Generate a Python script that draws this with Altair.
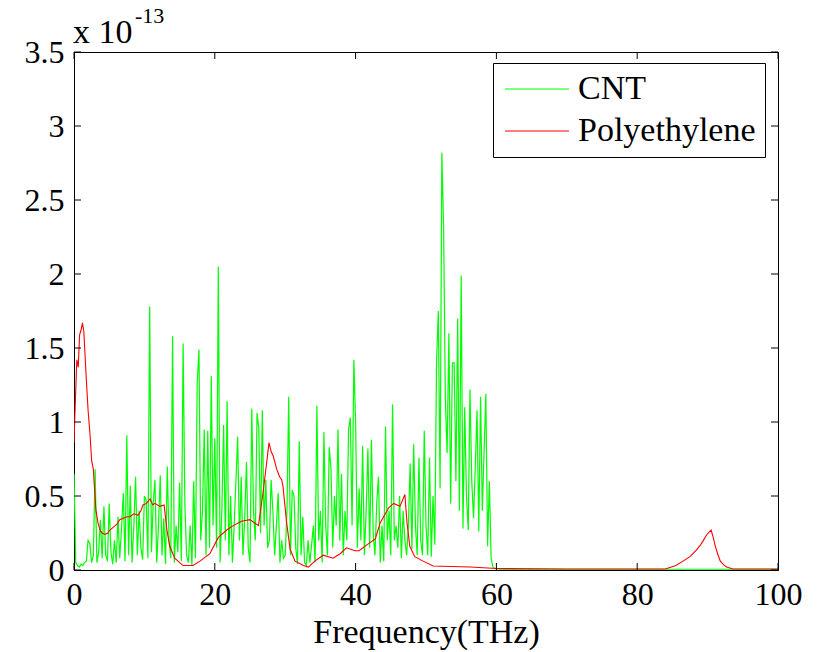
import altair as alt
import numpy as np
import pandas as pd

# ---- data (values in units of 1e-13) ----
cnt_values = [
    0.65, 0.05, 0.03, 0.02,  0.04, 0.03, 0.05, 0.06,  0.20, 0.18, 0.05, 0.10,  0.68, 0.05, 0.12, 0.34,
    0.08, 0.43, 0.10, 0.06,  0.45, 0.12, 0.04, 0.20,  0.05, 0.36, 0.08, 0.28,  0.52, 0.06, 0.91, 0.10,
    0.57, 0.05, 0.30, 0.63,  0.10, 0.40, 0.15, 0.07,  0.50, 0.47, 0.08, 1.78,  0.12, 0.45, 0.61, 0.05,
    0.30, 0.64, 0.10, 0.35,  0.04, 0.70, 0.20, 0.08,  1.58, 0.05, 0.30, 0.12,  0.59, 0.06, 1.53, 0.44,
    0.10, 0.05, 0.30, 0.03,  0.60, 0.08, 1.26, 1.49,  0.20, 0.40, 0.95, 0.10,  0.94, 0.15, 1.31, 0.30,
    0.89, 0.15, 2.05, 0.05,  0.40, 0.98, 0.20, 1.14,  0.10, 0.50, 0.05, 0.30,  0.60, 0.90, 0.20, 0.63,
    0.10, 0.35, 0.73, 0.15,  0.05, 1.09, 0.40, 0.20,  1.06, 0.96, 0.25, 1.08,  0.30, 0.61, 0.15, 0.20,
    0.61, 0.40, 0.10, 0.30,  0.52, 0.05, 0.20, 0.08,  0.10, 0.40, 1.17, 0.10,  0.54, 0.50, 0.15, 0.04,
    0.87, 0.10, 0.36, 0.05,  0.03, 0.20, 0.05, 0.17,  0.30, 0.05, 1.11, 0.20,  0.40, 0.05, 0.93, 0.30,
    0.10, 0.83, 0.69, 0.15,  0.50, 0.30, 0.95, 0.20,  0.65, 0.10, 0.40, 0.20,  0.95, 1.03, 0.30, 1.42,
    1.00, 0.15, 0.55, 0.20,  0.84, 0.10, 0.40, 0.82,  0.15, 0.88, 0.25, 0.10,  0.45, 0.63, 0.05, 0.30,
    0.06, 0.97, 0.20, 0.40,  0.10, 1.12, 0.20, 0.30,  0.15, 0.50, 0.08, 0.40,  0.20, 0.10, 0.30, 0.72,
    0.14, 0.85, 0.30, 0.10,  0.76, 0.20, 0.10, 0.94,  0.30, 0.10, 0.76, 0.09,  0.50, 0.17, 1.41, 1.75,
    0.55, 2.82, 2.32, 1.15,  0.79, 1.60, 0.45, 1.40,  1.40, 0.60, 1.70, 0.40,  1.99, 0.28, 1.10, 0.50,
    0.27, 1.22, 0.60, 0.35,  0.70, 1.08, 0.26, 1.17,  0.40, 0.80, 1.19, 0.16,  0.60, 0.08, 0.02, 0.01,
]
cnt_freq = list(np.arange(len(cnt_values)) * 0.25)
cnt_tail_freq = [60.5, 100.0]
cnt_tail_values = [0.005, 0.005]

pe_freq = [0, 0.2, 0.4, 0.6, 0.8, 1.0, 1.2, 1.4, 1.7, 2.0, 2.3, 2.5, 2.75, 3.1, 3.4, 3.7, 4.0, 4.4,
           4.8, 5.1, 5.6, 6.1, 6.5, 7.0, 7.5, 7.95, 8.5, 9.1, 9.5, 9.8, 10.3, 10.8, 11.2, 11.5, 12.2,
           12.8, 13.2, 13.6, 14.3, 15.5, 16.9, 17.9, 19.3, 20.5, 21.7, 22.6, 23.8, 25.0, 26.2, 26.4,
           26.9, 27.4, 27.7, 28.0, 28.3, 28.8, 29.2, 29.5, 29.7, 30.2, 30.7, 31.4, 32.6, 33.3, 34.2,
           35.4, 36.8, 37.8, 38.7, 39.9, 40.5, 41.6, 42.8, 43.5, 44.7, 45.4, 46.3, 47.0, 47.3, 47.7,
           48.4, 49.6, 51.0, 56.3, 60.0, 70.0, 84.0, 85.5, 86.5, 87.5, 88.4, 89.0, 89.4, 89.9, 90.5,
           90.8, 91.1, 91.5, 91.8, 92.3, 92.7, 93.6, 100.0]
pe_values = [0.86, 1.15, 1.42, 1.37, 1.59, 1.62, 1.67, 1.61, 1.33, 1.08, 0.90, 0.74, 0.68, 0.41, 0.32,
             0.27, 0.25, 0.24, 0.25, 0.27, 0.29, 0.31, 0.34, 0.35, 0.36, 0.36, 0.38, 0.37, 0.40, 0.44,
             0.45, 0.48, 0.44, 0.45, 0.43, 0.44, 0.27, 0.16, 0.08, 0.03, 0.03, 0.06, 0.11, 0.22, 0.27,
             0.30, 0.33, 0.34, 0.30, 0.37, 0.54, 0.74, 0.86, 0.80, 0.77, 0.68, 0.63, 0.61, 0.56, 0.32,
             0.14, 0.06, 0.03, 0.02, 0.06, 0.10, 0.08, 0.11, 0.15, 0.13, 0.13, 0.17, 0.21, 0.32, 0.42,
             0.45, 0.43, 0.51, 0.32, 0.16, 0.09, 0.06, 0.027, 0.02, 0.01, 0.007, 0.007, 0.03, 0.06,
             0.09, 0.135, 0.17, 0.20, 0.24, 0.27, 0.22, 0.16, 0.10, 0.06, 0.035, 0.02, 0.007, 0.007]

series_names = ["CNT", "Polyethylene"]
series_colors = ["#00ff00", "#ff0000"]
x_ticks = [0, 20, 40, 60, 80, 100]
y_ticks = [0, 0.5, 1, 1.5, 2, 2.5, 3, 3.5]

W, H = 704, 518
FONT = "Liberation Serif"
TICK = 7

cnt_df = pd.DataFrame({"f": cnt_freq + cnt_tail_freq, "v": cnt_values + cnt_tail_values, "s": "CNT"})
pe_df = pd.DataFrame({"f": pe_freq, "v": pe_values, "s": "Polyethylene"})

xs = alt.Scale(domain=[0, 100], nice=False, zero=False)
ys = alt.Scale(domain=[0, 3.5], nice=False, zero=False)
xax = alt.Axis(values=x_ticks, ticks=False, grid=False, labelFont=FONT, labelFontSize=32,
               labelColor="black", labelPadding=9, title="Frequency(THz)", titleFont=FONT,
               titleFontSize=34, titleFontWeight="normal", titleColor="black", titlePadding=5,
               domainColor="black", labelFlush=False)
yax = alt.Axis(values=y_ticks, ticks=False, grid=False, format="~g", labelFont=FONT,
               labelFontSize=32, labelColor="black", labelPadding=10, title=None,
               domainColor="black", labelFlush=False)
color = alt.Color("s:N", scale=alt.Scale(domain=series_names, range=series_colors),
                  legend=alt.Legend(title=None, orient="none", legendX=419, legendY=11,
                                    strokeColor="black", fillColor="white", padding=9,
                                    symbolType="M-3,0H3", symbolSize=455, symbolStrokeWidth=1.2,
                                    symbolOffset=18, labelFont=FONT, labelFontSize=34,
                                    labelColor="black", labelOffset=24, rowPadding=8,
                                    labelLimit=400))

cnt_line = alt.Chart(cnt_df).mark_line(strokeWidth=1.2, clip=True).encode(
    x=alt.X("f:Q", scale=xs, axis=xax), y=alt.Y("v:Q", scale=ys, axis=yax), color=color)
pe_line = alt.Chart(pe_df).mark_line(strokeWidth=1.1, clip=True).encode(
    x=alt.X("f:Q", scale=xs), y=alt.Y("v:Q", scale=ys), color=color)

xt = pd.DataFrame({"t": x_ticks})
yt = pd.DataFrame({"t": y_ticks})
tick_bottom = alt.Chart(xt).mark_rule(color="black", strokeWidth=1).encode(
    x=alt.X("t:Q", scale=xs), y=alt.value(H), y2=alt.value(H - TICK))
tick_top = alt.Chart(xt).mark_rule(color="black", strokeWidth=1).encode(
    x=alt.X("t:Q", scale=xs), y=alt.value(0), y2=alt.value(TICK))
tick_left = alt.Chart(yt).mark_rule(color="black", strokeWidth=1).encode(
    y=alt.Y("t:Q", scale=ys), x=alt.value(0), x2=alt.value(TICK))
tick_right = alt.Chart(yt).mark_rule(color="black", strokeWidth=1).encode(
    y=alt.Y("t:Q", scale=ys), x=alt.value(W), x2=alt.value(W - TICK))

exp_base = alt.Chart(pd.DataFrame({"t": ["x 10"]})).mark_text(
    font=FONT, fontSize=34, align="left", baseline="alphabetic", color="black").encode(
    text="t:N", x=alt.value(-1), y=alt.value(-9))
exp_sup = alt.Chart(pd.DataFrame({"t": ["-13"]})).mark_text(
    font=FONT, fontSize=22, align="left", baseline="alphabetic", color="black").encode(
    text="t:N", x=alt.value(61), y=alt.value(-29))

chart = alt.layer(cnt_line, pe_line, tick_bottom, tick_top, tick_left, tick_right,
                  exp_base, exp_sup).properties(
    width=W, height=H, autosize=alt.AutoSizeParams(type="none"),
    padding={"left": 74, "top": 52, "right": 41, "bottom": 82},
    background="white",
).configure_view(stroke="black", strokeWidth=1)

chart.save("out.html", embed_options={"renderer": "svg", "actions": False})
